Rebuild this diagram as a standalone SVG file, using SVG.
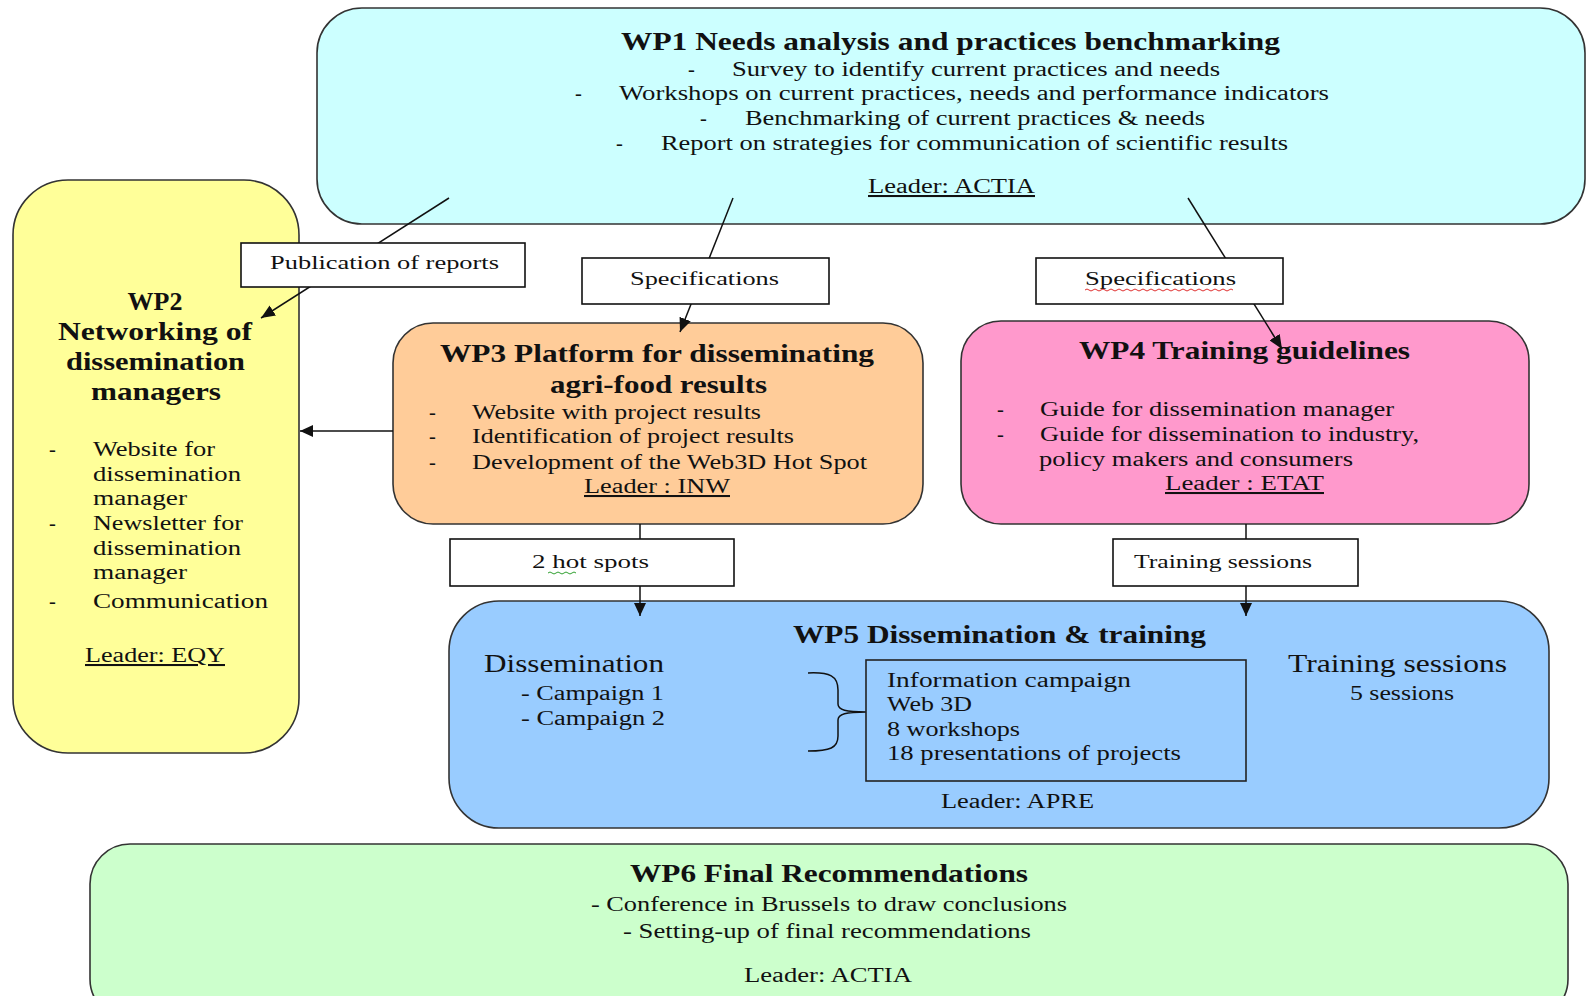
<svg xmlns="http://www.w3.org/2000/svg" width="1587" height="996" viewBox="0 0 1587 996">
<style>
text{font-family:"Liberation Serif","Times New Roman",serif;fill:#111;}
.t{font-weight:bold;font-size:26px;}
.b{font-size:20.5px;}
.l{font-size:19.5px;}
.u{text-decoration:underline;}
.box{stroke:#333;stroke-width:1.6;}
.lab{fill:#fff;stroke:#111;stroke-width:1.6;}
.con{stroke:#111;stroke-width:1.5;fill:none;}
</style>
<defs>
<marker id="ah" viewBox="0 0 14 12" refX="14" refY="6" markerWidth="14" markerHeight="12" markerUnits="userSpaceOnUse" orient="auto">
<path d="M0,0 L14,6 L0,12 z" fill="#111"/>
</marker>
<marker id="ah2" viewBox="0 0 13 12" refX="13" refY="6" markerWidth="13" markerHeight="12" markerUnits="userSpaceOnUse" orient="auto">
<path d="M0,0 L13,6 L0,12 z" fill="#111"/>
</marker>
</defs>
<rect width="1587" height="996" fill="#fff"/>

<g id="wp1">
<rect class="box" x="317" y="8" width="1268" height="216" rx="45" fill="#CCFFFF"/>
<text class="t" x="621" y="50" textLength="659" lengthAdjust="spacingAndGlyphs">WP1 Needs analysis and practices benchmarking</text>
<text class="b" x="688" y="76">-</text>
<text class="b" x="732" y="76" textLength="488" lengthAdjust="spacingAndGlyphs">Survey to identify current practices and needs</text>
<text class="b" x="575" y="100">-</text>
<text class="b" x="619" y="100" textLength="710" lengthAdjust="spacingAndGlyphs">Workshops on current practices, needs and performance indicators</text>
<text class="b" x="700" y="125">-</text>
<text class="b" x="745" y="125" textLength="460" lengthAdjust="spacingAndGlyphs">Benchmarking of current practices &amp; needs</text>
<text class="b" x="616" y="150">-</text>
<text class="b" x="661" y="150" textLength="627" lengthAdjust="spacingAndGlyphs">Report on strategies for communication of scientific results</text>
<text class="b u" x="868" y="193" textLength="167" lengthAdjust="spacingAndGlyphs">Leader: ACTIA</text>
</g>

<g id="wp2">
<rect class="box" x="13" y="180" width="286" height="573" rx="55" fill="#FFFF99"/>
<text class="t" x="155" y="310" text-anchor="middle">WP2</text>
<text class="t" x="58" y="340" textLength="194" lengthAdjust="spacingAndGlyphs">Networking of</text>
<text class="t" x="66" y="370" textLength="179" lengthAdjust="spacingAndGlyphs">dissemination</text>
<text class="t" x="91" y="400" textLength="130" lengthAdjust="spacingAndGlyphs">managers</text>
<text class="b" x="49" y="456">-</text>
<text class="b" x="93" y="456" textLength="122" lengthAdjust="spacingAndGlyphs">Website for</text>
<text class="b" x="93" y="481" textLength="148" lengthAdjust="spacingAndGlyphs">dissemination</text>
<text class="b" x="93" y="505" textLength="94" lengthAdjust="spacingAndGlyphs">manager</text>
<text class="b" x="49" y="530">-</text>
<text class="b" x="93" y="530" textLength="150" lengthAdjust="spacingAndGlyphs">Newsletter for</text>
<text class="b" x="93" y="555" textLength="148" lengthAdjust="spacingAndGlyphs">dissemination</text>
<text class="b" x="93" y="579" textLength="94" lengthAdjust="spacingAndGlyphs">manager</text>
<text class="b" x="49" y="608">-</text>
<text class="b" x="93" y="608" textLength="175" lengthAdjust="spacingAndGlyphs">Communication</text>
<text class="b u" x="85" y="662" textLength="140" lengthAdjust="spacingAndGlyphs">Leader: EQY</text>
</g>

<g id="wp3">
<rect class="box" x="393" y="323" width="530" height="201" rx="40" fill="#FFCC99"/>
<text class="t" x="440" y="362" textLength="434" lengthAdjust="spacingAndGlyphs">WP3 Platform for disseminating</text>
<text class="t" x="550" y="393" textLength="217" lengthAdjust="spacingAndGlyphs">agri-food results</text>
<text class="b" x="429" y="419">-</text>
<text class="b" x="472" y="419" textLength="289" lengthAdjust="spacingAndGlyphs">Website with project results</text>
<text class="b" x="429" y="443">-</text>
<text class="b" x="472" y="443" textLength="322" lengthAdjust="spacingAndGlyphs">Identification of project results</text>
<text class="b" x="429" y="469">-</text>
<text class="b" x="472" y="469" textLength="395" lengthAdjust="spacingAndGlyphs">Development of the Web3D Hot Spot</text>
<text class="b u" x="584" y="493" textLength="146" lengthAdjust="spacingAndGlyphs">Leader : INW</text>
</g>

<g id="wp4">
<rect class="box" x="961" y="321" width="568" height="203" rx="40" fill="#FF99CC"/>
<text class="t" x="1079" y="359" textLength="331" lengthAdjust="spacingAndGlyphs">WP4 Training guidelines</text>
<text class="b" x="997" y="416">-</text>
<text class="b" x="1040" y="416" textLength="354" lengthAdjust="spacingAndGlyphs">Guide for dissemination manager</text>
<text class="b" x="997" y="441">-</text>
<text class="b" x="1040" y="441" textLength="379" lengthAdjust="spacingAndGlyphs">Guide for dissemination to industry,</text>
<text class="b" x="1039" y="466" textLength="314" lengthAdjust="spacingAndGlyphs">policy makers and consumers</text>
<text class="b u" x="1165" y="490" textLength="159" lengthAdjust="spacingAndGlyphs">Leader : ETAT</text>
</g>

<g id="wp5">
<rect class="box" x="449" y="601" width="1100" height="227" rx="50" fill="#99CCFF"/>
<text class="t" x="793" y="643" textLength="413" lengthAdjust="spacingAndGlyphs">WP5 Dissemination &amp; training</text>
<text x="484" y="672" font-size="25" textLength="180" lengthAdjust="spacingAndGlyphs">Dissemination</text>
<text class="b" x="521" y="700" textLength="143" lengthAdjust="spacingAndGlyphs">- Campaign 1</text>
<text class="b" x="521" y="725" textLength="144" lengthAdjust="spacingAndGlyphs">- Campaign 2</text>
<path class="con" d="M808,673 C830,672 838,676 838,690 L838,704 C838,710 846,712 866,712 C846,712 838,714 838,720 L838,736 C838,748 830,751 808,751"/>
<rect x="866" y="660" width="380" height="121" fill="none" stroke="#222" stroke-width="1.6"/>
<text class="b" x="887" y="687" textLength="244" lengthAdjust="spacingAndGlyphs">Information campaign</text>
<text class="b" x="887" y="711" textLength="85" lengthAdjust="spacingAndGlyphs">Web 3D</text>
<text class="b" x="887" y="736" textLength="133" lengthAdjust="spacingAndGlyphs">8 workshops</text>
<text class="b" x="887" y="760" textLength="294" lengthAdjust="spacingAndGlyphs">18 presentations of projects</text>
<text class="b" x="941" y="808" textLength="153" lengthAdjust="spacingAndGlyphs">Leader: APRE</text>
<text x="1288" y="672" font-size="25" textLength="219" lengthAdjust="spacingAndGlyphs">Training sessions</text>
<text class="b" x="1350" y="700" textLength="104" lengthAdjust="spacingAndGlyphs">5 sessions</text>
</g>

<g id="wp6">
<rect class="box" x="90" y="844" width="1478" height="175" rx="40" fill="#CCFFCC"/>
<text class="t" x="630" y="882" textLength="398" lengthAdjust="spacingAndGlyphs">WP6 Final Recommendations</text>
<text class="b" x="591" y="911" textLength="476" lengthAdjust="spacingAndGlyphs">- Conference in Brussels to draw conclusions</text>
<text class="b" x="623" y="938" textLength="408" lengthAdjust="spacingAndGlyphs">- Setting-up of final recommendations</text>
<text class="b" x="744" y="982" textLength="168" lengthAdjust="spacingAndGlyphs">Leader: ACTIA</text>
</g>

<g id="connectors">
<line class="con" x1="449" y1="198" x2="261" y2="318" marker-end="url(#ah)"/>
<line class="con" x1="733" y1="198" x2="680" y2="332" marker-end="url(#ah)"/>
<line class="con" x1="1188" y1="198" x2="1282" y2="349" marker-end="url(#ah)"/>
<line class="con" x1="393" y1="431" x2="300" y2="431" marker-end="url(#ah2)"/>
<line class="con" x1="640" y1="524" x2="640" y2="616" marker-end="url(#ah2)"/>
<line class="con" x1="1246" y1="524" x2="1246" y2="616" marker-end="url(#ah2)"/>
</g>

<g id="label-publication">
<rect class="lab" x="241" y="243" width="284" height="44"/>
<text class="l" x="270" y="269" textLength="229" lengthAdjust="spacingAndGlyphs">Publication of reports</text>
</g>
<g id="label-spec1">
<rect class="lab" x="582" y="258" width="247" height="46"/>
<text class="l" x="630" y="285" textLength="149" lengthAdjust="spacingAndGlyphs">Specifications</text>
</g>
<g id="label-spec2">
<rect class="lab" x="1036" y="258" width="247" height="46"/>
<text class="l" x="1085" y="285" textLength="151" lengthAdjust="spacingAndGlyphs">Specifications</text>
<path d="M1085,290 q2,-2 4,0 t4,0 t4,0 t4,0 t4,0 t4,0 t4,0 t4,0 t4,0 t4,0 t4,0 t4,0 t4,0 t4,0 t4,0 t4,0 t4,0 t4,0 t4,0 t4,0 t4,0 t4,0 t4,0 t4,0 t4,0 t4,0 t4,0 t4,0 t4,0 t4,0 t4,0 t4,0 t4,0 t4,0 t4,0 t4,0 t4,0" fill="none" stroke="#e03030" stroke-width="1"/>
</g>
<g id="label-hotspots">
<rect class="lab" x="450" y="539" width="284" height="47"/>
<text class="l" x="532" y="568" textLength="117" lengthAdjust="spacingAndGlyphs">2 hot spots</text>
<path d="M548,573 q2,-2 4,0 t4,0 t4,0 t4,0 t4,0 t4,0 t4,0" fill="none" stroke="#30a030" stroke-width="1"/>
</g>
<g id="label-training">
<rect class="lab" x="1113" y="539" width="245" height="47"/>
<text class="l" x="1134" y="568" textLength="178" lengthAdjust="spacingAndGlyphs">Training sessions</text>
</g>
</svg>
